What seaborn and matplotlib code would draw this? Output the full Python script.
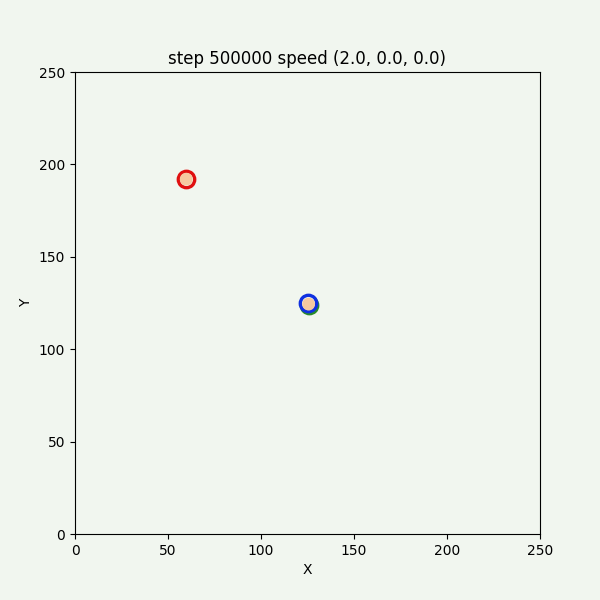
import matplotlib
matplotlib.use("Agg")
import matplotlib.pyplot as plt
import seaborn as sns
import pandas as pd

# cell membranes (ring of particles) and cytoplasm
cell_names = ["red", "green", "blue"]
cell_x = [59.8, 125.9, 125.1]
cell_y = [192.0, 124.0, 125.0]
ring_colors = ["#e01010", "#2a8a2a", "#1030e0"]
fill_x = [59.8, 125.6]
fill_y = [192.0, 124.4]
fill_color = "#f6c9a0"

step = 500000
speed = (2.0, 0.0, 0.0)

bg = "#f1f6ef"
sns.set_style("ticks")
plt.rcParams["font.family"] = ["DejaVu Sans"]
plt.rcParams.update({"text.color": "black", "axes.labelcolor": "black",
                     "xtick.color": "black", "ytick.color": "black"})

fig, ax = plt.subplots(figsize=(6, 6), dpi=100)
fig.patch.set_facecolor(bg)
ax.set_facecolor(bg)

cells = pd.DataFrame({"x": cell_x, "y": cell_y, "cell": cell_names})
for name, col in zip(cell_names, ring_colors):
    sub = cells[cells["cell"] == name]
    sns.scatterplot(data=sub, x="x", y="y", s=140, color=bg,
                    edgecolor=col, linewidth=2.4, ax=ax, zorder=3)

fills = pd.DataFrame({"x": fill_x, "y": fill_y})
sns.scatterplot(data=fills, x="x", y="y", s=85, color=fill_color,
                edgecolor="none", ax=ax, zorder=4)

ax.set_xlim(0, 250)
ax.set_ylim(0, 250)
ax.set_xticks([0, 50, 100, 150, 200, 250])
ax.set_yticks([0, 50, 100, 150, 200, 250])
ax.set_xlabel("X")
ax.set_ylabel("Y")
ax.set_title(f"step {step} speed {speed}")
for s in ax.spines.values():
    s.set_visible(True)
    s.set_color("black")
    s.set_linewidth(0.8)

plt.subplots_adjust(left=0.125, right=0.9, bottom=0.11, top=0.88)
plt.savefig("out.png", dpi=100, facecolor=bg)
